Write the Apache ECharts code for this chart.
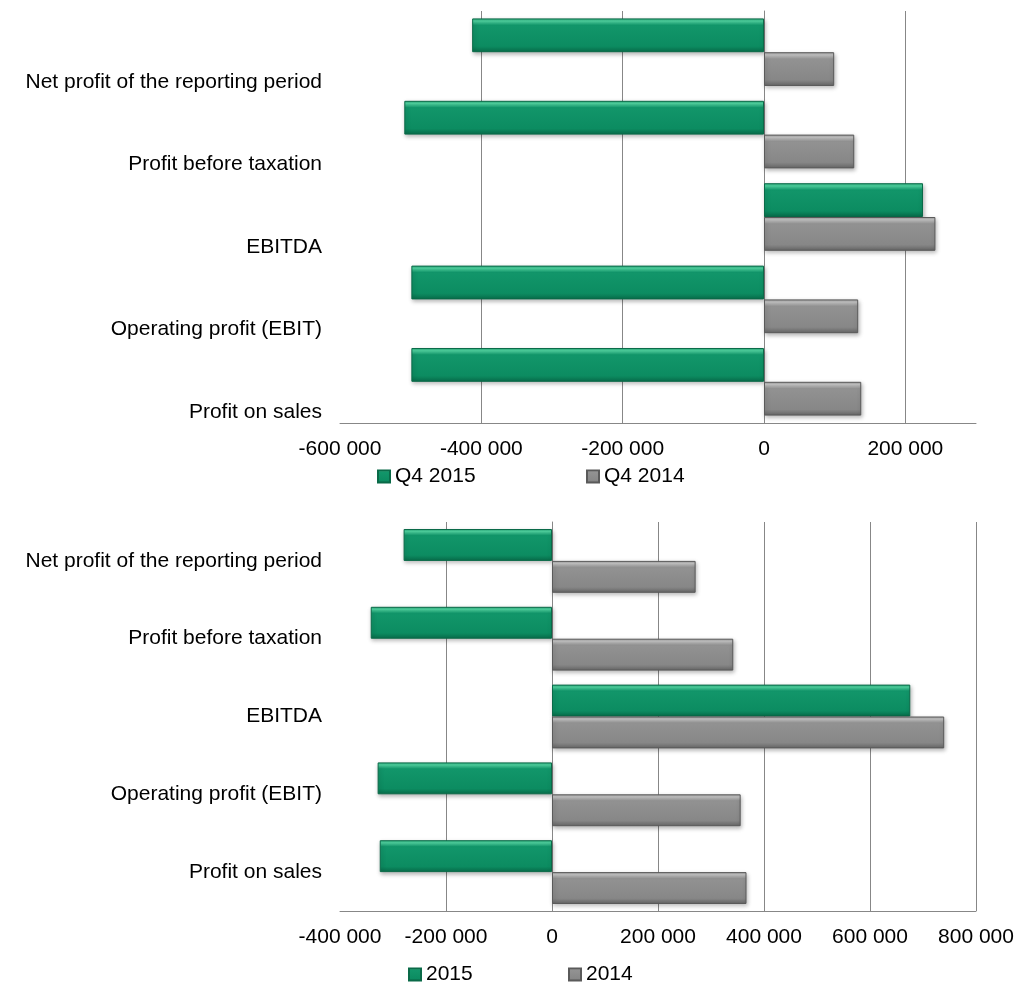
<!DOCTYPE html>
<html>
<head>
<meta charset="utf-8">
<script src="https://cdn.jsdelivr.net/npm/echarts@6/dist/echarts.min.js"></script>
<style>
  html, body { margin: 0; padding: 0; background: #fff; }
  #chart { width: 1017px; height: 982px; }
</style>
</head>
<body>
<div id="chart"></div>
<script>
// Categories, bottom to top
const categories = [
  'Profit on sales',
  'Operating profit (EBIT)',
  'EBITDA',
  'Profit before taxation',
  'Net profit of the reporting period'
];

// Quarterly comparison
const quarterSeriesNames = ['Q4 2015', 'Q4 2014'];
const q4_2015 = [-499000, -499000, 225000, -509000, -413000];
const q4_2014 = [137600, 133300, 242600, 127700, 99300];
const quarterAxis = { min: -600000, max: 300000, interval: 200000 };

// Annual comparison
const yearSeriesNames = ['2015', '2014'];
const y2015 = [-325000, -329000, 676000, -342000, -280000];
const y2014 = [367000, 356000, 740000, 342000, 271000];
const yearAxis = { min: -400000, max: 800000, interval: 200000 };

const FONT = '"Liberation Sans", Arial, sans-serif';
const FONT_SIZE = 21;
const GRID_LINE = '#878787';

function fmt(v) {
  const s = String(Math.abs(v)).replace(/\B(?=(\d{3})+(?!\d))/g, ' ');
  return (v < 0 ? '-' : '') + s;
}

function greenFill() {
  return new echarts.graphic.LinearGradient(0, 0, 0, 1, [
    { offset: 0, color: '#2aa97a' },
    { offset: 0.08, color: '#4fd3a0' },
    { offset: 0.2, color: '#12966a' },
    { offset: 0.82, color: '#0c8c61' },
    { offset: 1, color: '#086c4a' }
  ]);
}
function grayFill() {
  return new echarts.graphic.LinearGradient(0, 0, 0, 1, [
    { offset: 0, color: '#9a9a9a' },
    { offset: 0.08, color: '#c4c4c4' },
    { offset: 0.2, color: '#929292' },
    { offset: 0.82, color: '#878787' },
    { offset: 1, color: '#656565' }
  ]);
}

const barBase = {
  type: 'bar',
  barGap: '0%',
  barCategoryGap: '18%',
  emphasis: { disabled: true }
};
function greenStyle() {
  return {
    color: greenFill(), borderColor: '#0a6a48', borderWidth: 1,
    shadowColor: 'rgba(0,0,0,0.28)', shadowBlur: 4, shadowOffsetX: 1, shadowOffsetY: 2
  };
}
function grayStyle() {
  return {
    color: grayFill(), borderColor: '#5a5a5a', borderWidth: 1,
    shadowColor: 'rgba(0,0,0,0.28)', shadowBlur: 4, shadowOffsetX: 1, shadowOffsetY: 2
  };
}

function valueAxis(gridIndex, range) {
  const maxIsTick = range.max % range.interval === 0;
  return {
    type: 'value', gridIndex,
    min: range.min, max: range.max, interval: range.interval,
    axisLine: { show: true, onZero: false, lineStyle: { color: GRID_LINE, width: 1 } },
    axisTick: { show: false },
    splitLine: { show: true, showMinLine: false, showMaxLine: maxIsTick,
                 lineStyle: { color: GRID_LINE, width: 1 } },
    axisLabel: {
      color: '#000', fontFamily: FONT, fontSize: FONT_SIZE, margin: 16,
      showMaxLabel: maxIsTick,
      formatter: fmt
    }
  };
}
// shift > 0 pushes each category label that many pixels below its band centre
function catAxis(gridIndex, shift) {
  return {
    type: 'category', gridIndex, data: categories,
    axisLine: { show: true, lineStyle: { color: GRID_LINE, width: 1 } },
    axisTick: { show: false },
    axisLabel: {
      interval: 0, hideOverlap: false,
      color: '#000', fontFamily: FONT, fontSize: FONT_SIZE, margin: 18,
      lineHeight: shift > 0 ? shift * 2 : FONT_SIZE + 2,
      formatter: shift > 0 ? (v) => '\n' + v : (v) => v
    }
  };
}

const legendText = { color: '#000', fontFamily: FONT, fontSize: FONT_SIZE };
function legendItem(name, left, top) {
  return {
    data: [name], left, top, itemWidth: 12, itemHeight: 12, itemGap: 0,
    icon: 'rect', textStyle: legendText, selectedMode: false, padding: 0
  };
}

const chart = echarts.init(document.getElementById('chart'), null, { renderer: 'canvas' });
chart.setOption({
  animation: false,
  backgroundColor: '#fff',
  grid: [
    { left: 340, top: 11, width: 636, height: 412, containLabel: false, outerBoundsMode: 'none' },
    { left: 340, top: 522, width: 636, height: 389, containLabel: false, outerBoundsMode: 'none' }
  ],
  xAxis: [valueAxis(0, quarterAxis), valueAxis(1, yearAxis)],
  yAxis: [catAxis(0, 30), catAxis(1, 0)],
  legend: [
    legendItem(quarterSeriesNames[0], 377, 466),
    legendItem(quarterSeriesNames[1], 586, 466),
    legendItem(yearSeriesNames[0], 408, 964),
    legendItem(yearSeriesNames[1], 568, 964)
  ],
  series: [
    Object.assign({}, barBase, { name: quarterSeriesNames[0], xAxisIndex: 0, yAxisIndex: 0, data: q4_2015, itemStyle: greenStyle() }),
    Object.assign({}, barBase, { name: quarterSeriesNames[1], xAxisIndex: 0, yAxisIndex: 0, data: q4_2014, itemStyle: grayStyle() }),
    Object.assign({}, barBase, { name: yearSeriesNames[0], xAxisIndex: 1, yAxisIndex: 1, data: y2015, itemStyle: greenStyle() }),
    Object.assign({}, barBase, { name: yearSeriesNames[1], xAxisIndex: 1, yAxisIndex: 1, data: y2014, itemStyle: grayStyle() })
  ]
});
</script>
</body>
</html>
